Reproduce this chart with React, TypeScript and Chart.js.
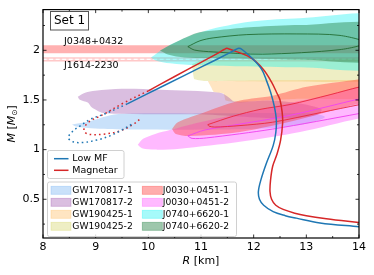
import React, { useEffect, useRef } from 'react';
import { Chart, registerables } from 'chart.js';

Chart.register(...registerables);

type P = [number, number];

// ---------- axes ----------
const xMajorTicks = [8, 9, 10, 11, 12, 13, 14];
const xMinorTicks = [8.5, 9.5, 10.5, 11.5, 12.5, 13.5];
const yMajorTicks = [0.5, 1, 1.5, 2];
const yMinorTicks = [0.25, 0.75, 1.25, 1.75, 2.25];

// ---------- M-R curves (R [km], M [Msun]) ----------
const lowMFSolid: P[] = [
  [9.6, 1.461], [10.3, 1.646], [11.0, 1.83], [11.55, 1.976], [11.66, 2.008], [11.72, 2.02],
  [11.78, 2.008], [11.99, 1.91], [12.15, 1.81], [12.24, 1.7], [12.32, 1.58], [12.39, 1.44],
  [12.43, 1.3], [12.42, 1.17], [12.37, 1.04], [12.24, 0.86], [12.14, 0.7], [12.09, 0.58],
  [12.11, 0.5], [12.19, 0.44], [12.37, 0.375], [12.6, 0.335], [12.81, 0.31], [13.26, 0.262],
  [14.0, 0.223],
];
const lowMFDotted: P[] = [
  [9.6, 1.461], [9.21, 1.368], [8.89, 1.303], [8.7, 1.237], [8.57, 1.188], [8.48, 1.121],
  [8.57, 1.079], [8.76, 1.072], [9.02, 1.096], [9.27, 1.138], [9.52, 1.204], [9.68, 1.254],
];
const magnetarSolid: P[] = [
  [10.0, 1.592], [10.5, 1.736], [11.0, 1.879], [11.35, 1.98], [11.44, 2.008], [11.49, 2.02],
  [11.55, 2.01], [11.93, 1.93], [12.18, 1.81], [12.34, 1.68], [12.45, 1.56], [12.5, 1.5],
  [12.54, 1.38], [12.55, 1.27], [12.51, 1.09], [12.44, 0.95], [12.36, 0.83], [12.32, 0.69],
  [12.31, 0.578], [12.34, 0.5], [12.42, 0.44], [12.56, 0.398], [12.78, 0.36], [13.0, 0.335],
  [13.38, 0.305], [14.0, 0.265],
];
const magnetarDotted: P[] = [
  [10.0, 1.592], [9.52, 1.467], [9.14, 1.352], [8.89, 1.286], [8.8, 1.237], [8.78, 1.188],
  [8.86, 1.155], [9.14, 1.155], [9.46, 1.188], [9.71, 1.254], [9.87, 1.319],
];

// ---------- pulsar mass bands ----------
const j0348Band: P[] = [[7.5, 2.05], [14.5, 2.05], [14.5, 1.97], [7.5, 1.97]];
const j1614Band: P[] = [[7.5, 1.924], [14.5, 1.924], [14.5, 1.892], [7.5, 1.892]];
const j1614Center: P[] = [[7.5, 1.908], [14.5, 1.908]];

// ---------- credible regions ----------
const gw170817_1: P[] = [
  [8.55, 1.252], [8.89, 1.286], [9.21, 1.336], [9.5, 1.36], [10.98, 1.365], [13.07, 1.365],
  [13.35, 1.326], [12.88, 1.247], [11.93, 1.207], [9.65, 1.202], [8.99, 1.212], [8.63, 1.232],
];
const gw170817_2: P[] = [
  [8.66, 1.533], [8.8, 1.573], [8.99, 1.592], [9.5, 1.612], [10.22, 1.602], [11.36, 1.573],
  [11.51, 1.533], [11.64, 1.484], [12.31, 1.494], [12.88, 1.464], [13.29, 1.405], [13.18, 1.345],
  [12.69, 1.316], [11.93, 1.326], [10.98, 1.355], [9.18, 1.365], [8.93, 1.424], [8.85, 1.474],
  [8.7, 1.503],
];
const gw190425_1: P[] = [
  [11.13, 1.691], [14.5, 1.691], [14.5, 1.523], [12.88, 1.513], [12.12, 1.494], [11.74, 1.474],
  [11.47, 1.494], [11.43, 1.563], [11.24, 1.582], [11.19, 1.632],
];
const gw190425_2: P[] = [
  [10.83, 1.859], [10.98, 1.898], [14.5, 1.908], [14.5, 1.691], [11.07, 1.691], [10.87, 1.711],
];
const j0030_1: P[] = [
  [10.45, 1.207], [10.56, 1.276], [11.11, 1.385], [11.74, 1.494], [12.36, 1.543], [13.01, 1.632],
  [14.02, 1.711], [14.5, 1.75], [14.5, 1.484], [14.02, 1.464], [12.88, 1.306], [11.74, 1.178],
  [10.79, 1.138], [10.52, 1.158],
];
const j0030_2: P[] = [
  [9.8, 1.049], [9.9, 1.109], [10.13, 1.158], [10.41, 1.197], [10.98, 1.276], [12.12, 1.405],
  [13.26, 1.533], [14.5, 1.661], [14.5, 1.345], [14.02, 1.316], [12.88, 1.178], [11.74, 1.079],
  [10.6, 1.01], [10.13, 1.0], [9.88, 1.015],
];
const j0740_1: P[] = [
  [10.05, 1.928], [10.315, 2.027], [10.79, 2.145], [11.36, 2.234], [12.0, 2.293], [12.88, 2.323],
  [14.5, 2.333], [14.5, 1.839], [12.88, 1.829], [11.74, 1.839], [10.92, 1.849], [10.41, 1.869],
  [10.14, 1.898],
];
const j0740_2: P[] = [
  [10.22, 1.997], [10.5, 2.076], [10.92, 2.175], [11.36, 2.204], [12.0, 2.234], [12.88, 2.254],
  [14.5, 2.254], [14.5, 1.908], [12.88, 1.908], [11.55, 1.918], [10.69, 1.928], [10.37, 1.958],
];
// inner contours
const j0740_2Inner: P[] = [
  [10.75, 2.037], [10.98, 2.096], [11.23, 2.125], [11.87, 2.158], [12.82, 2.165], [13.64, 2.15],
  [14.13, 2.076], [13.64, 2.007], [12.17, 1.961], [11.23, 1.984], [10.88, 2.002],
];
const j0030_1Inner: P[] = [
  [11.13, 1.252], [11.61, 1.336], [12.12, 1.405], [12.69, 1.454], [13.45, 1.553], [14.02, 1.632],
  [14.5, 1.681], [14.5, 1.503], [14.02, 1.454], [13.29, 1.375], [12.36, 1.276], [11.74, 1.242],
  [11.26, 1.227], [11.15, 1.237],
];
const j0030_2Inner: P[] = [
  [10.75, 1.138], [11.07, 1.197], [11.74, 1.257], [12.69, 1.345], [14.02, 1.513], [14.5, 1.573],
  [14.5, 1.415], [14.02, 1.365], [12.36, 1.207], [11.11, 1.118], [10.83, 1.113],
];

// ---------- styles ----------
const BLUE = '#1f77b4';
const RED = '#d62728';
const C_GW1 = 'rgba(100,170,240,0.35)';
const C_GW2 = 'rgba(150,70,165,0.35)';
const C_GW3 = 'rgba(255,180,80,0.35)';
const C_GW4 = 'rgba(200,200,60,0.3)';
const C_J1 = 'rgba(255,60,60,0.42)';
const C_J2 = 'rgba(255,80,255,0.4)';
const C_J3 = 'rgba(0,240,240,0.35)';
const C_J4 = 'rgba(40,130,70,0.45)';

const curveLabels = ['Low MF', 'Magnetar'];
const curveColors = [BLUE, RED];
const regionLabels = [
  'GW170817-1', 'GW170817-2', 'GW190425-1', 'GW190425-2',
  'J0030+0451-1', 'J0030+0451-2', 'J0740+6620-1', 'J0740+6620-2',
];
const regionColors = [C_GW1, C_GW2, C_GW3, C_GW4, C_J1, C_J2, C_J3, C_J4];

const FONT = "'DejaVu Sans', sans-serif";

const toXY = (pts: P[]) => pts.map(([x, y]) => ({ x, y }));
const closed = (pts: P[]) => [...pts, pts[0]];

const curve = (label: string, pts: P[], color: string, dotted = false) => ({
  label,
  data: toXY(pts),
  borderColor: color,
  backgroundColor: color,
  borderWidth: 1.5,
  borderDash: dotted ? [1.6, 3.1] : [],
  fill: false,
  pointRadius: 0,
  tension: 0.35,
});
const region = (label: string, pts: P[], bg: string, tension = 0.3) => ({
  label,
  data: toXY(closed(pts)),
  borderColor: 'rgba(0,0,0,0)',
  backgroundColor: bg,
  borderWidth: 0,
  fill: 'shape',
  pointRadius: 0,
  tension,
});
const contour = (label: string, pts: P[], color: string) => ({
  label,
  data: toXY(closed(pts)),
  borderColor: color,
  backgroundColor: 'rgba(0,0,0,0)',
  borderWidth: 1,
  fill: false,
  pointRadius: 0,
  tension: 0.3,
});

function drawPieces(ctx: CanvasRenderingContext2D, pieces: { t: string; f: string; dy?: number }[], cx: number, cy: number) {
  let total = 0;
  for (const p of pieces) { ctx.font = p.f; total += ctx.measureText(p.t).width; }
  let x = cx - total / 2;
  ctx.textAlign = 'left';
  ctx.textBaseline = 'middle';
  for (const p of pieces) {
    ctx.font = p.f;
    ctx.fillText(p.t, x, cy + (p.dy || 0));
    x += ctx.measureText(p.t).width;
  }
}

const decorPlugin = {
  id: 'decor',
  afterDatasetsDraw(chart: any) {
    const { ctx, chartArea: a, scales } = chart;
    const xs = scales.x;
    const ys = scales.y;
    ctx.save();
    ctx.strokeStyle = '#000';
    const line = (x1: number, y1: number, x2: number, y2: number) => {
      ctx.beginPath(); ctx.moveTo(x1, y1); ctx.lineTo(x2, y2); ctx.stroke();
    };
    ctx.lineWidth = 0.8;
    for (const v of xMajorTicks) {
      const px = xs.getPixelForValue(v);
      line(px, a.bottom, px, a.bottom - 3.5); line(px, a.top, px, a.top + 3.5);
    }
    for (const v of xMinorTicks) {
      const px = xs.getPixelForValue(v);
      line(px, a.bottom, px, a.bottom - 2); line(px, a.top, px, a.top + 2);
    }
    for (const v of yMajorTicks) {
      const py = ys.getPixelForValue(v);
      line(a.left, py, a.left + 3.5, py); line(a.right, py, a.right - 3.5, py);
    }
    for (const v of yMinorTicks) {
      const py = ys.getPixelForValue(v);
      line(a.left, py, a.left + 2, py); line(a.right, py, a.right - 2, py);
    }
    ctx.lineWidth = 1.2;
    ctx.strokeRect(a.left, a.top, a.right - a.left, a.bottom - a.top);

    // band labels
    ctx.fillStyle = '#000';
    ctx.font = `9.5px ${FONT}`;
    ctx.textAlign = 'left';
    ctx.textBaseline = 'middle';
    ctx.fillText('J0348+0432', xs.getPixelForValue(8.4), ys.getPixelForValue(2.093));
    ctx.fillText('J1614-2230', xs.getPixelForValue(8.4), ys.getPixelForValue(1.851));

    // Set 1 box
    ctx.fillStyle = '#fff';
    ctx.strokeStyle = '#555';
    ctx.lineWidth = 1;
    ctx.fillRect(50.5, 11.5, 38, 18.5);
    ctx.strokeRect(50.5, 11.5, 38, 18.5);
    ctx.fillStyle = '#000';
    ctx.font = `12px ${FONT}`;
    ctx.textAlign = 'center';
    ctx.fillText('Set 1', 69.5, 21);

    const roundBox = (x: number, y: number, w: number, h: number) => {
      ctx.beginPath();
      ctx.roundRect(x, y, w, h, 2);
      ctx.fillStyle = 'rgba(255,255,255,0.8)';
      ctx.fill();
      ctx.strokeStyle = '#d0d0d0';
      ctx.lineWidth = 1;
      ctx.stroke();
    };
    // legend 1: curves
    roundBox(47.5, 150.5, 76.5, 28);
    const rows1 = [158.7, 170.3];
    ctx.font = `9.5px ${FONT}`;
    ctx.textAlign = 'left';
    ctx.textBaseline = 'middle';
    curveLabels.forEach((lab, i) => {
      ctx.strokeStyle = curveColors[i];
      ctx.lineWidth = 1.5;
      line(54, rows1[i], 68.5, rows1[i]);
      ctx.fillStyle = '#000';
      ctx.fillText(lab, 72.3, rows1[i]);
    });
    // legend 2: regions
    roundBox(47.5, 182, 189, 54.5);
    const rows2 = [190.3, 202.3, 214.3, 226.3];
    const colPatch = [51, 142.3];
    const colText = [72.3, 162.7];
    ctx.font = `9.2px ${FONT}`;
    regionLabels.forEach((lab, i) => {
      const c = Math.floor(i / 4);
      const r = i % 4;
      ctx.fillStyle = regionColors[i];
      ctx.fillRect(colPatch[c], rows2[r] - 4, 20, 8);
      ctx.strokeStyle = regionColors[i];
      ctx.lineWidth = 0.8;
      ctx.strokeRect(colPatch[c], rows2[r] - 4, 20, 8);
      ctx.fillStyle = '#000';
      ctx.fillText(lab, colText[c], rows2[r]);
    });

    // axis titles
    ctx.fillStyle = '#000';
    const cx = (a.left + a.right) / 2;
    drawPieces(ctx, [
      { t: 'R', f: `italic 11px ${FONT}` },
      { t: ' [km]', f: `11px ${FONT}` },
    ], cx, 261);
    ctx.save();
    ctx.translate(12.5, (a.top + a.bottom) / 2);
    ctx.rotate(-Math.PI / 2);
    drawPieces(ctx, [
      { t: 'M', f: `italic 11px ${FONT}` },
      { t: ' [', f: `11px ${FONT}` },
      { t: 'M', f: `italic 11px ${FONT}` },
      { t: '\u2299', f: `7.5px ${FONT}`, dy: 2.5 },
      { t: ']', f: `11px ${FONT}` },
    ], 0, 0);
    ctx.restore();
    ctx.restore();
  },
};

export default function App() {
  const ref = useRef<HTMLCanvasElement>(null);
  useEffect(() => {
    const datasets: any[] = [
      // top-most first
      curve('Low MF', lowMFSolid, BLUE),
      curve('Magnetar', magnetarSolid, RED),
      curve('Low MF dotted', lowMFDotted, BLUE, true),
      curve('Magnetar dotted', magnetarDotted, RED, true),
      contour('J0740+6620-2 inner', j0740_2Inner, 'rgba(30,105,45,0.85)'),
      contour('J0030+0451-1 inner', j0030_1Inner, 'rgba(235,40,60,0.9)'),
      contour('J0030+0451-2 inner', j0030_2Inner, 'rgba(240,70,240,0.95)'),
      region('J0740+6620-2', j0740_2, C_J4),
      region('J0740+6620-1', j0740_1, C_J3),
      region('J0030+0451-1', j0030_1, C_J1),
      region('J0030+0451-2', j0030_2, C_J2),
      region('GW170817-2', gw170817_2, C_GW2),
      region('GW170817-1', gw170817_1, C_GW1),
      region('GW190425-1', gw190425_1, C_GW3, 0.15),
      region('GW190425-2', gw190425_2, C_GW4, 0.1),
      {
        label: 'J1614-2230 center',
        data: toXY(j1614Center),
        borderColor: 'rgba(255,255,255,0.95)',
        borderWidth: 1.3,
        borderDash: [4, 2.5],
        fill: false,
        pointRadius: 0,
      },
      {
        label: 'J1614-2230',
        data: toXY(closed(j1614Band)),
        borderColor: 'rgba(255,110,110,0.45)',
        backgroundColor: 'rgba(255,90,90,0.22)',
        borderWidth: 0.8,
        fill: 'shape',
        pointRadius: 0,
        tension: 0,
      },
      {
        label: 'J0348+0432',
        data: toXY(closed(j0348Band)),
        borderColor: 'rgba(0,0,0,0)',
        backgroundColor: 'rgba(255,60,60,0.4)',
        borderWidth: 0,
        fill: 'shape',
        pointRadius: 0,
        tension: 0,
      },
    ];
    const tickFont = { family: FONT, size: 11 };
    const chart = new Chart(ref.current as HTMLCanvasElement, {
      type: 'line',
      data: { datasets },
      options: {
        animation: false,
        responsive: false,
        devicePixelRatio: 1,
        events: [],
        layout: { padding: { left: 0, right: 15, top: 7, bottom: 0 } },
        plugins: { legend: { display: false }, tooltip: { enabled: false } },
        scales: {
          x: {
            type: 'linear',
            min: 8,
            max: 14,
            grid: { display: false, drawTicks: false },
            border: { display: false },
            ticks: { font: tickFont, color: '#000', padding: 3, maxRotation: 0, autoSkip: false, callback: (v: any) => String(v) },
            afterBuildTicks: (s: any) => { s.ticks = xMajorTicks.map((v) => ({ value: v })); },
            afterFit: (s: any) => { s.height = 37; },
          },
          y: {
            type: 'linear',
            min: 0.11,
            max: 2.41,
            grid: { display: false, drawTicks: false },
            border: { display: false },
            ticks: { font: tickFont, color: '#000', padding: 3, autoSkip: false, callback: (v: any) => String(v) },
            afterBuildTicks: (s: any) => { s.ticks = yMajorTicks.map((v) => ({ value: v })); },
            afterFit: (s: any) => { s.width = 43; },
          },
        },
      } as any,
      plugins: [decorPlugin],
    });
    return () => chart.destroy();
  }, []);
  return (
    <div style={{ position: 'absolute', left: 0, top: 0, width: 374, height: 275, background: '#fff' }}>
      <canvas ref={ref} width={374} height={275} style={{ width: 374, height: 275, display: 'block' }} />
    </div>
  );
}
